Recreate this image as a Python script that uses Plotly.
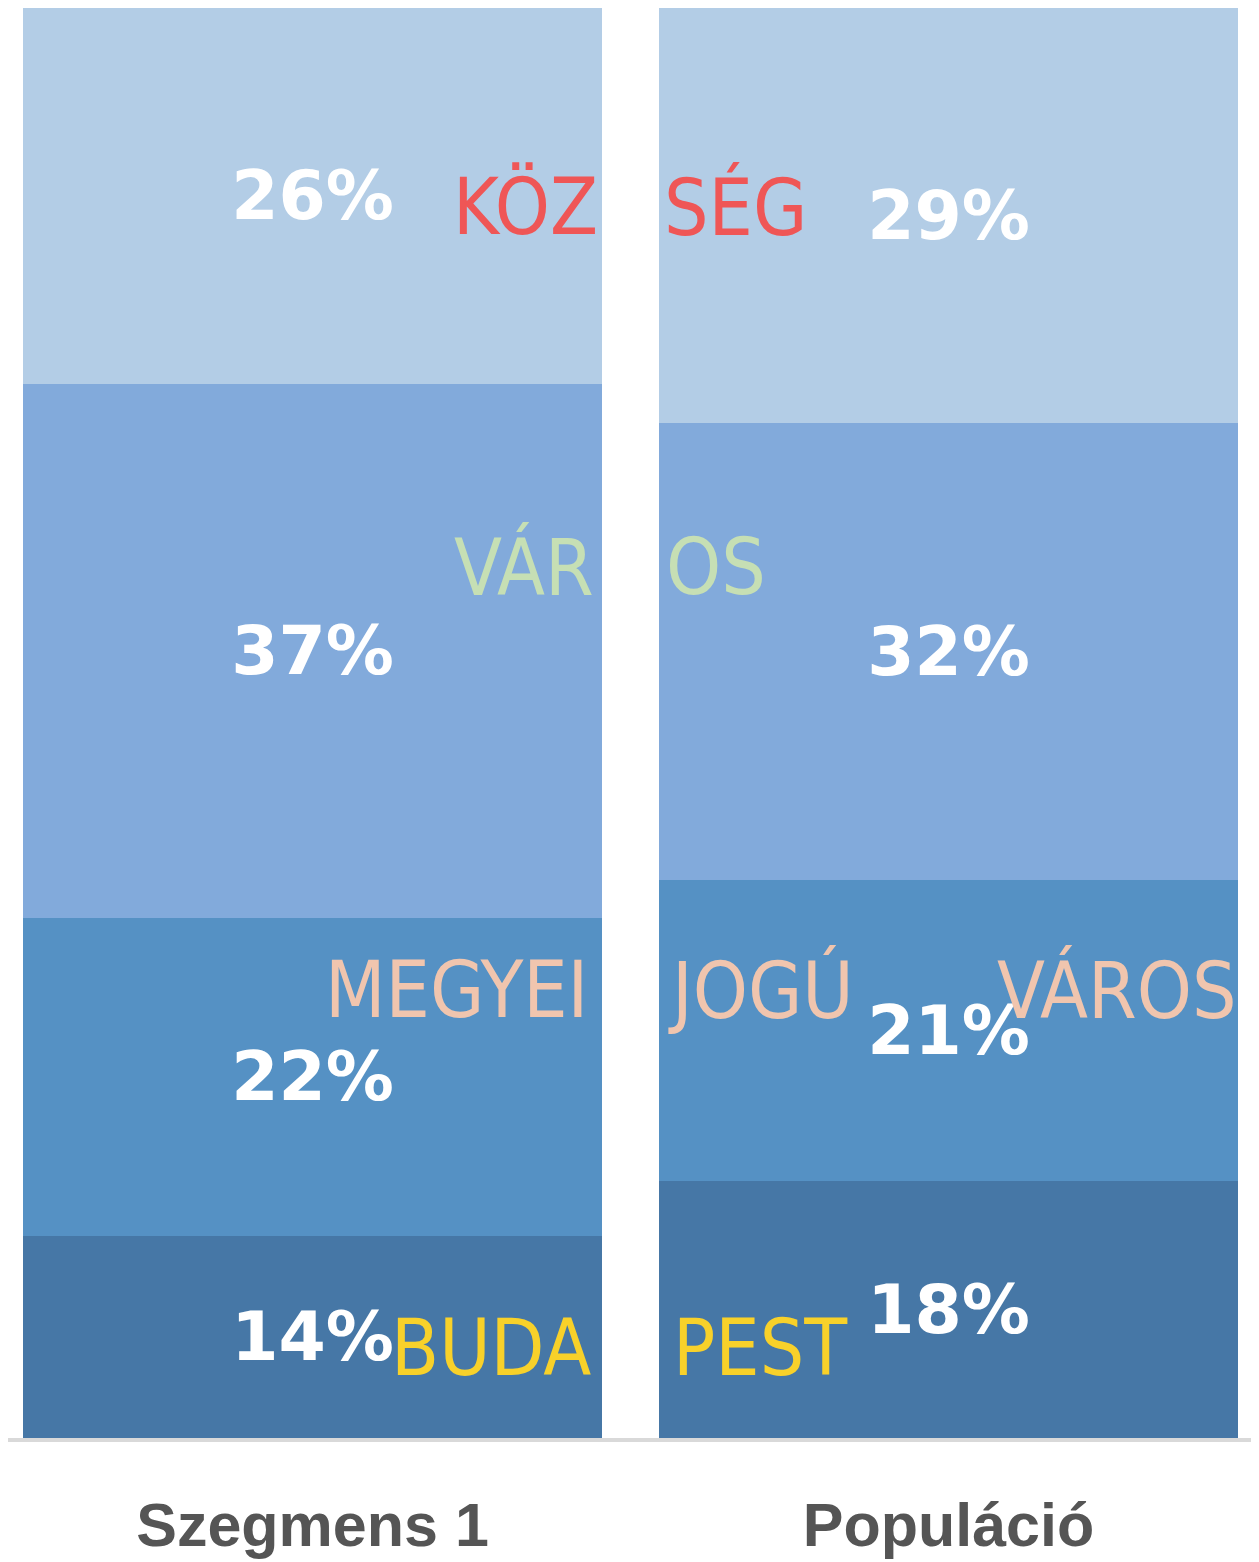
import plotly.graph_objects as go

# categories and stacked shares (bottom to top)
categories = ["Szegmens 1", "Populáció"]
bottom_vals = [14, 18]
second_vals = [22, 21]
third_vals = [37, 32]
top_vals = [26, 29]

segment_colors = ["#4677a6", "#5591c4", "#82aadb", "#b3cde6"]

# overlay words: (text, x px centre, y px centre, colour) in page pixels
words = ["KÖZ", "SÉG", "VÁR", "OS", "MEGYEI", "JOGÚ", "VÁROS", "BUDA", "PEST"]
word_x = [525, 735, 524, 716, 456, 761, 1117, 491, 760]
word_y = [207, 207, 567, 567, 990, 990, 990, 1348, 1348]
word_colors = ["#ef5656", "#ef5656", "#c6dfb4", "#c6dfb4",
               "#f0c5ae", "#f0c5ae", "#f0c5ae", "#f8d12a", "#f8d12a"]

# page has an 8px body margin, so the figure is drawn 8px in
OFF = 8
W, H = 1251, 1554
PLOT_TOP, PLOT_BOTTOM = 0, 1430

fig = go.Figure()
for vals, col in zip([bottom_vals, second_vals, third_vals, top_vals], segment_colors):
    fig.add_trace(go.Bar(
        x=[0, 1], y=vals,
        marker=dict(color=col, line=dict(width=0)),
        width=0.91,
        text=[f"{v}%" for v in vals],
        textposition="inside",
        insidetextanchor="middle",
        textfont=dict(family="DejaVu Sans", size=68, color="white", weight="bold"),
        textangle=0,
        showlegend=False,
    ))

for t, x, y, c in zip(words, word_x, word_y, word_colors):
    fx = (x - OFF) / W
    fy = 1 - ((y - OFF) - PLOT_TOP) / (PLOT_BOTTOM - PLOT_TOP)
    fig.add_annotation(
        text=t, x=fx, y=fy,
        xref="paper", yref="paper", xanchor="center", yanchor="middle",
        showarrow=False,
        font=dict(family="DejaVu Sans Condensed", size=78, color=c),
    )

fig.update_layout(
    width=W, height=H,
    barmode="stack",
    barnorm="percent",
    margin=dict(l=0, r=0, t=PLOT_TOP, b=H - PLOT_BOTTOM, autoexpand=False),
    paper_bgcolor="white",
    plot_bgcolor="white",
    uniformtext=dict(minsize=68, mode="show"),
)
fig.update_xaxes(
    range=[-0.4788, 1.4882],
    tickvals=[0, 1], ticktext=categories,
    tickfont=dict(family="Liberation Sans", size=61, color="#555555", weight="bold"),
    ticklabelstandoff=31,
    showline=True, linecolor="#d9d9d9", linewidth=4,
    showgrid=False, zeroline=False, ticks="",
    automargin=False,
)
fig.update_yaxes(range=[0, 100], visible=False, showgrid=False)

fig.write_html("out.html")
